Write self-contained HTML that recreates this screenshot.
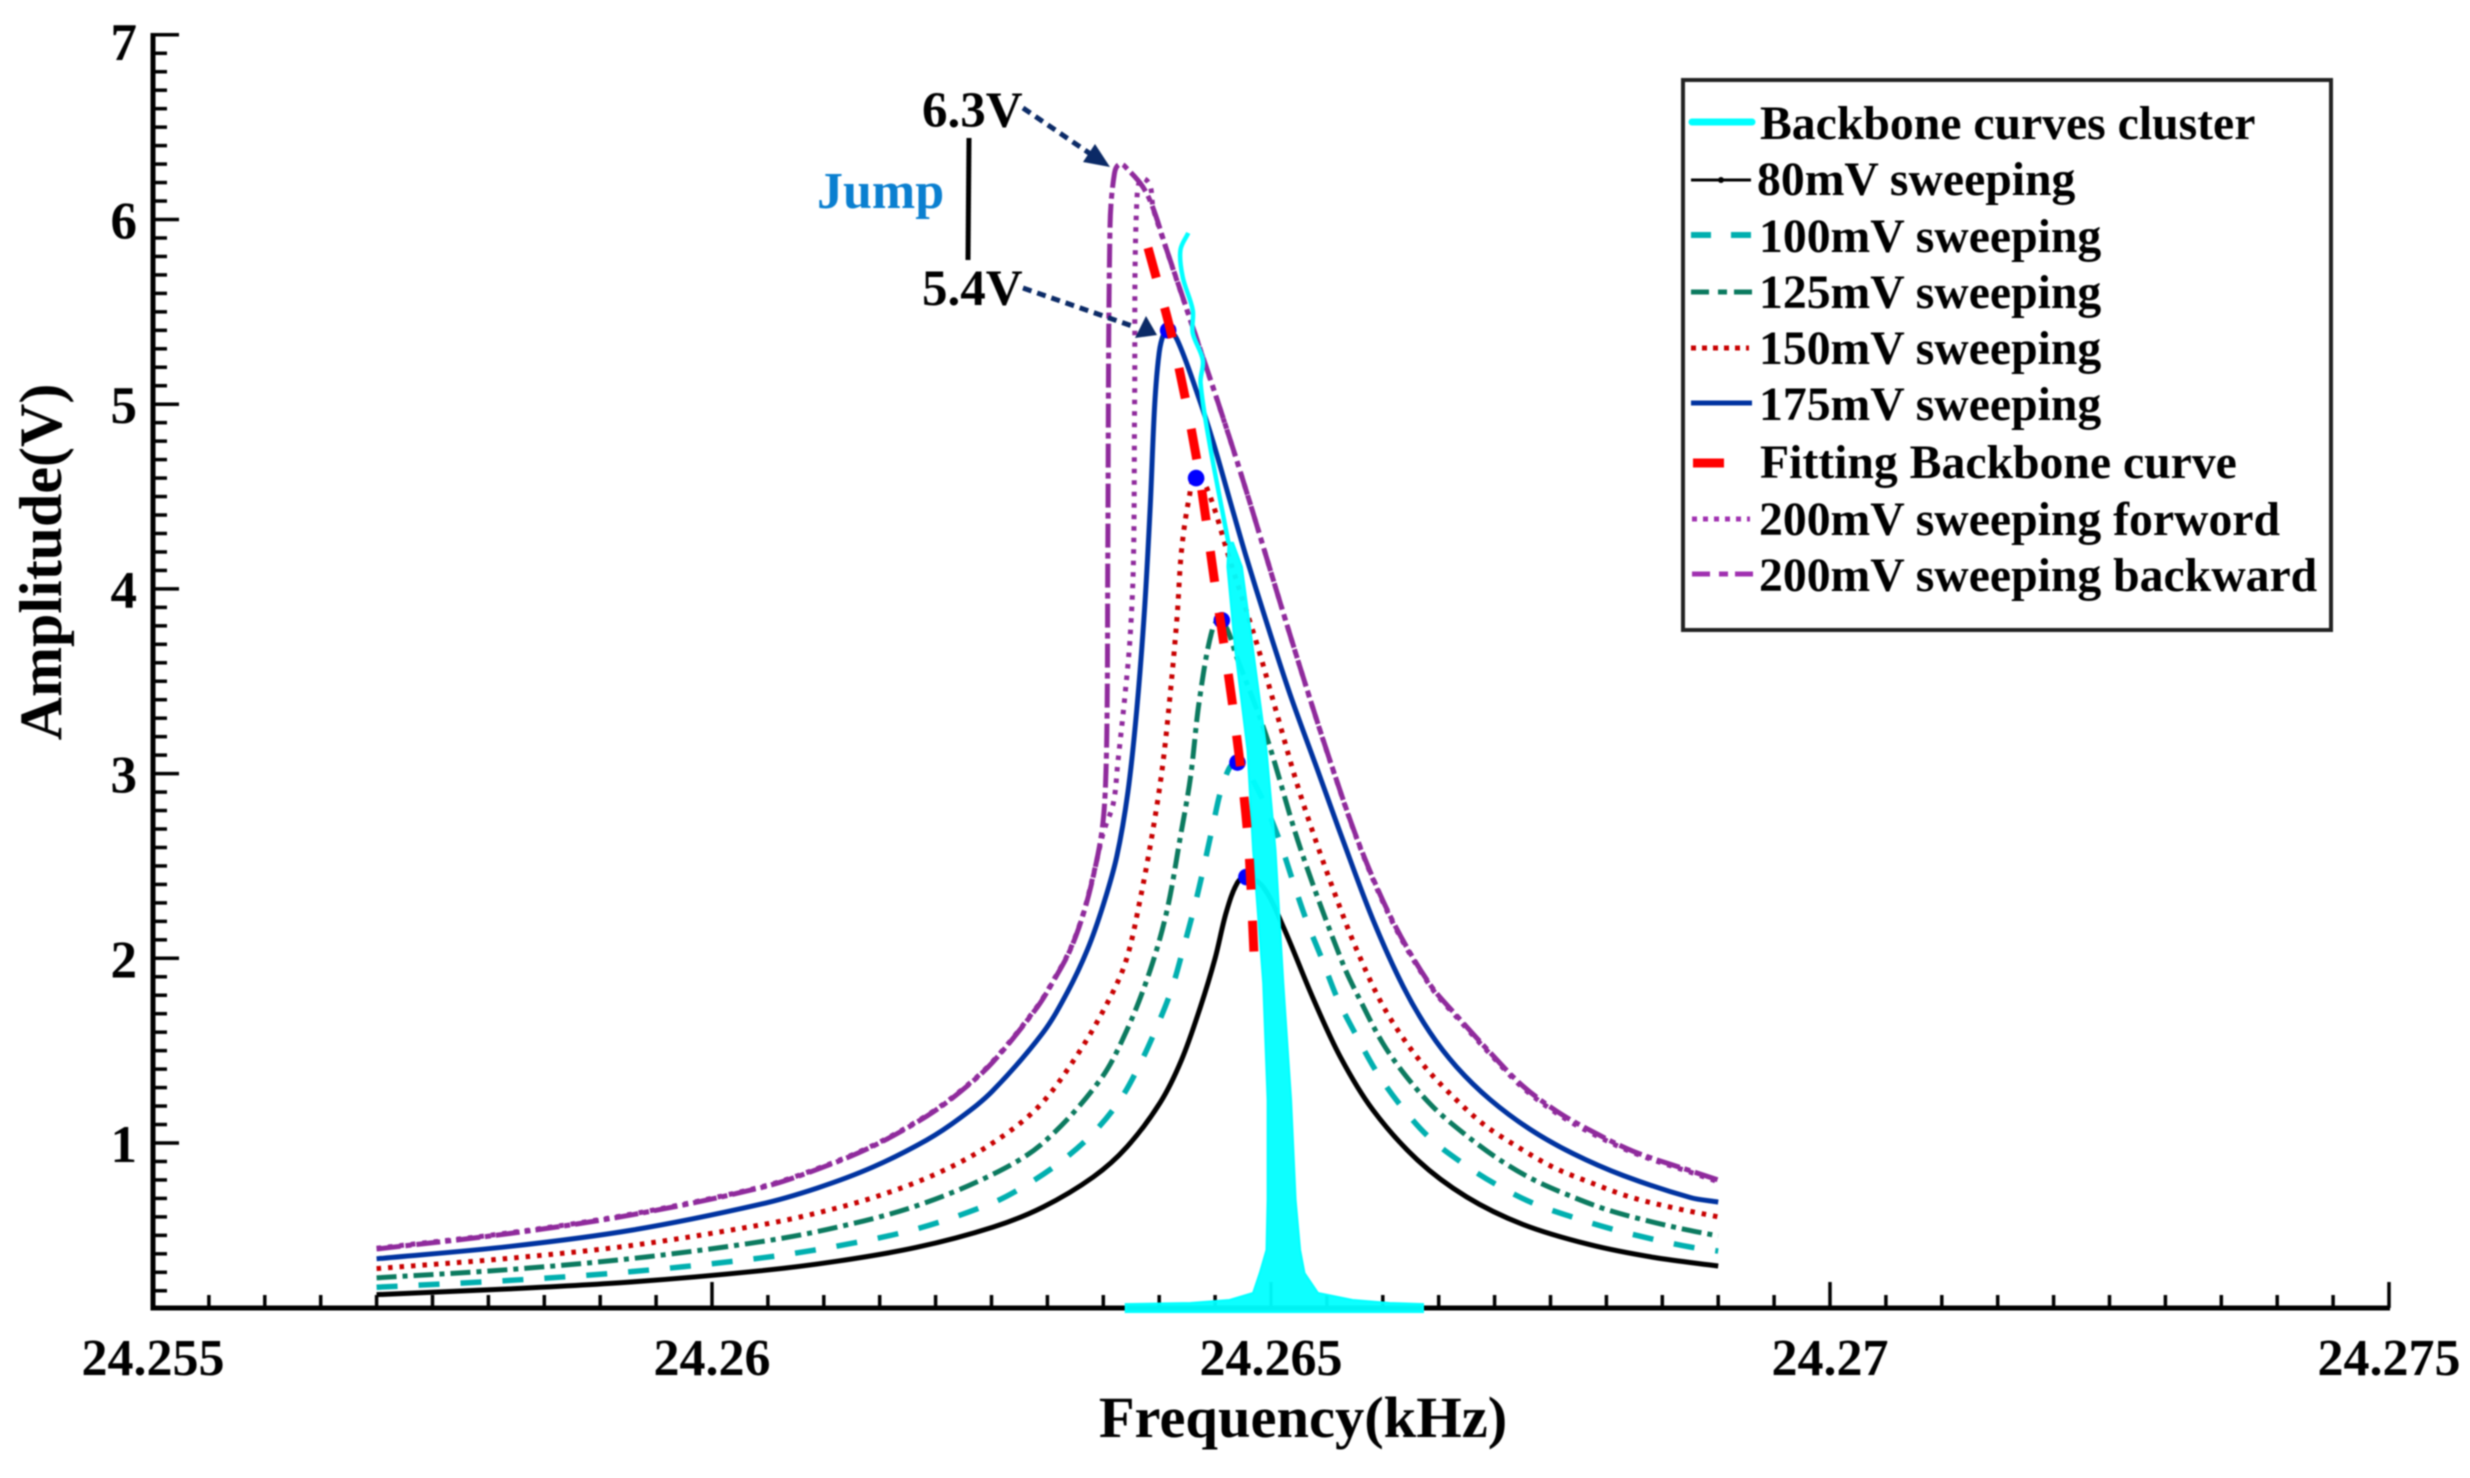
<!DOCTYPE html>
<html lang="en">
<head>
<meta charset="utf-8">
<title>Amplitude vs Frequency sweeps</title>
<style>
html,body{margin:0;padding:0;background:#fff;width:2470px;height:1478px;overflow:hidden}
svg{display:block;filter:blur(0.9px)}
text{font-family:"Liberation Serif",serif;font-weight:bold;fill:#000}
.leg{font-size:47.7px}
</style>
</head>
<body>
<svg id="chart" xmlns="http://www.w3.org/2000/svg" width="2470" height="1478" viewBox="0 0 2470 1478">
  <rect x="0" y="0" width="2470" height="1478" fill="#fff"/>
  <g id="axes"></g>
  <g id="series"></g>

  <text x="61" y="562" font-size="60" text-anchor="middle" transform="rotate(-90 61 562)">Amplitude(V)</text>
  <text x="1303" y="1437" font-size="58.5" text-anchor="middle">Frequency(kHz)</text>

  <text x="922" y="127" font-size="51">6.3V</text>
  <text x="922" y="305" font-size="51">5.4V</text>
  <text x="817" y="208" font-size="52" style="fill:#0a7fd0">Jump</text>
  <line x1="969" y1="138" x2="968" y2="260" stroke="#000" stroke-width="5"/>
  <line x1="1023" y1="108" x2="1092" y2="155" stroke="#0b2a66" stroke-width="5" stroke-dasharray="9 6"/>
  <polygon points="1110,167 1083,162 1095,144" fill="#0b2a66"/>
  <line x1="1023" y1="288" x2="1135" y2="327" stroke="#0b2a66" stroke-width="5" stroke-dasharray="9 6"/>
  <polygon points="1157,335 1135,338 1146,316" fill="#0b2a66"/>

  <g>
    <rect x="1683" y="80" width="648" height="550" fill="#fff" stroke="#222" stroke-width="4"/>
    <g>
      <line x1="1692" y1="122" x2="1752" y2="122" stroke="#00ffff" stroke-width="7" stroke-linecap="round"/>
      <text class="leg" x="1760" y="139">Backbone curves cluster</text>
    </g>
    <g>
      <line x1="1691" y1="180" x2="1751" y2="180" stroke="#000" stroke-width="3"/>
      <circle cx="1721" cy="180" r="3" fill="#000"/>
      <text class="leg" x="1757" y="195">80mV sweeping</text>
    </g>
    <g>
      <line x1="1691" y1="235" x2="1752" y2="235" stroke="#00afaf" stroke-width="6" stroke-dasharray="20 20"/>
      <text class="leg" x="1759" y="252">100mV sweeping</text>
    </g>
    <g>
      <line x1="1691" y1="292" x2="1752" y2="292" stroke="#0b7a5f" stroke-width="5" stroke-dasharray="18 9 9 7 18"/>
      <text class="leg" x="1759" y="308">125mV sweeping</text>
    </g>
    <g>
      <line x1="1691" y1="348" x2="1749" y2="348" stroke="#c80000" stroke-width="5" stroke-dasharray="5 6"/>
      <text class="leg" x="1759" y="364">150mV sweeping</text>
    </g>
    <g>
      <line x1="1691" y1="403" x2="1752" y2="403" stroke="#0033a0" stroke-width="5"/>
      <text class="leg" x="1759" y="420">175mV sweeping</text>
    </g>
    <g>
      <line x1="1693" y1="463" x2="1724" y2="463" stroke="#ff0000" stroke-width="9"/>
      <text class="leg" x="1760" y="478">Fitting Backbone curve</text>
    </g>
    <g>
      <line x1="1692" y1="519" x2="1750" y2="519" stroke="#a030b0" stroke-width="5" stroke-dasharray="5 6"/>
      <text class="leg" x="1759" y="535">200mV sweeping forword</text>
    </g>
    <g>
      <line x1="1692" y1="574" x2="1753" y2="574" stroke="#a030b0" stroke-width="5" stroke-dasharray="18 9 9 7 18"/>
      <text class="leg" x="1759" y="591">200mV sweeping backward</text>
    </g>
  </g>
</svg>

<script>
// ---- tick labels ----
const xTickValues = [24.255, 24.26, 24.265, 24.27, 24.275];
const xTickLabels = ["24.255", "24.26", "24.265", "24.27", "24.275"];
const yTickValues = [1, 2, 3, 4, 5, 6, 7];
const yTickLabels = ["1", "2", "3", "4", "5", "6", "7"];

// ---- 80 mV ----
const freq80 = [24.257,24.25819,24.25929,24.26043,24.26112,24.26183,24.26251,24.26296,24.26341,24.26371,24.26401,24.2642,24.264365,24.2645,24.2646,24.2647,24.26478,24.26493,24.26511,24.265375,24.26562,24.26591,24.26631,24.26675,24.26725,24.26785,24.26843,24.269];
const amp80 = [0.179,0.21,0.248,0.308,0.36,0.435,0.544,0.653,0.816,0.978,1.22,1.45,1.73,2.0,2.25,2.41,2.44,2.386,2.17,1.785,1.466,1.18,0.908,0.708,0.56,0.45,0.38,0.334];

// ---- 100 mV ----
const freq100 = [24.257,24.25819,24.25929,24.26043,24.26112,24.26183,24.26251,24.26284,24.26314,24.26341,24.26365,24.26383,24.26398,24.26411,24.26421,24.26432,24.26439,24.26447,24.26458,24.2647,24.26485,24.26505,24.2652,24.26532,24.26546,24.2656,24.26577,24.26595,24.26617,24.26642,24.26671,24.26702,24.26734,24.26769,24.26805,24.26841,24.26875,24.269];
const amp100 = [0.219,0.256,0.304,0.377,0.442,0.535,0.676,0.783,0.908,1.054,1.233,1.43,1.63,1.83,2.04,2.29,2.47,2.69,2.96,3.06,2.95,2.68,2.41,2.2,1.99,1.774,1.574,1.38,1.195,1.027,0.892,0.773,0.675,0.6,0.534,0.48,0.437,0.415];

// ---- 125 mV ----
const freq125 = [24.257,24.25819,24.25929,24.26043,24.26112,24.26183,24.26251,24.26296,24.26347,24.26371,24.26392,24.26407,24.26419,24.26428,24.26436,24.26448,24.26456,24.2647,24.26496,24.26526,24.26564,24.26581,24.266,24.2662,24.26645,24.26672,24.26702,24.26732,24.26765,24.268,24.26836,24.26872,24.269];
const amp125 = [0.27,0.315,0.375,0.465,0.544,0.66,0.83,1.0,1.34,1.61,1.937,2.26,2.66,2.98,3.4,3.79,3.83,3.62,3.2,2.6,1.975,1.758,1.54,1.368,1.195,1.054,0.919,0.81,0.72,0.64,0.58,0.53,0.497];

// ---- 150 mV ----
const freq150 = [24.257,24.25819,24.25929,24.26046,24.26094,24.26144,24.26198,24.26246,24.26291,24.26326,24.26356,24.26371,24.26383,24.26394,24.26403,24.2641,24.26416,24.2642,24.26427,24.26433,24.26443,24.26463,24.26487,24.26505,24.26523,24.26541,24.26562,24.26575,24.26596,24.26615,24.26638,24.26663,24.26691,24.26721,24.26752,24.26787,24.26821,24.26857,24.269];
const amp150 = [0.32,0.376,0.446,0.559,0.621,0.704,0.826,0.98,1.19,1.47,1.786,2.0,2.32,2.68,3.04,3.44,3.85,4.21,4.5,4.6,4.54,4.16,3.71,3.33,2.95,2.62,2.27,2.07,1.79,1.596,1.41,1.25,1.097,0.978,0.87,0.783,0.708,0.653,0.6];

// ---- 175 mV ----
const freq175 = [24.257,24.25819,24.25929,24.26043,24.26094,24.26144,24.26192,24.26222,24.26251,24.26296,24.26318,24.26336,24.2635,24.26362,24.26372,24.2638,24.26387,24.26392,24.26396,24.264,24.26404,24.26408,24.26416,24.26434,24.26448,24.26466,24.26478,24.26496,24.26517,24.26541,24.26564,24.26591,24.26618,24.26642,24.26666,24.26696,24.26732,24.2677,24.26815,24.26875,24.269];
const amp175 = [0.373,0.44,0.529,0.668,0.756,0.87,1.016,1.136,1.282,1.597,1.818,2.05,2.29,2.55,2.9,3.35,3.9,4.45,5.0,5.28,5.38,5.4,5.35,5.06,4.8,4.42,4.17,3.82,3.43,3.03,2.645,2.212,1.85,1.6,1.412,1.235,1.073,0.943,0.824,0.705,0.68];

// ---- 200 mV backward ----
const freq200b = [24.257,24.25819,24.25929,24.26043,24.26094,24.26144,24.26192,24.26222,24.26251,24.26291,24.26305,24.2632,24.26332,24.26342,24.26349,24.26352,24.263535,24.26354,24.26356,24.2636,24.26365,24.26372,24.26385,24.26394,24.26407,24.26421,24.26436,24.26451,24.26466,24.26481,24.26493,24.26511,24.26532,24.26555,24.2658,24.26609,24.26642,24.26666,24.26696,24.26725,24.26756,24.26785,24.26824,24.26875,24.269];
const amp200b = [0.426,0.51,0.612,0.757,0.857,0.983,1.145,1.277,1.437,1.736,1.873,2.04,2.237,2.47,2.7,2.94,3.4,4.16,5.96,6.25,6.3,6.27,6.18,6.07,5.83,5.58,5.31,5.04,4.76,4.47,4.23,3.87,3.46,3.03,2.6,2.2,1.86,1.69,1.49,1.31,1.17,1.07,0.955,0.85,0.8];

// ---- 200 mV forward ----
const freq200f = [24.257,24.25819,24.25929,24.26043,24.26094,24.26144,24.26192,24.26222,24.26251,24.26291,24.26305,24.2632,24.26332,24.26342,24.2635,24.26359,24.26363,24.26369,24.26374,24.26377,24.26378,24.2638,24.26387,24.26395,24.26408,24.26422,24.26437,24.26452,24.26467,24.26482,24.26494,24.26512,24.26533,24.26556,24.26581,24.2661,24.26643,24.26667,24.26697,24.26726,24.26757,24.26786,24.26825,24.26876,24.269];
const amp200f = [0.43,0.514,0.616,0.761,0.861,0.987,1.149,1.281,1.441,1.74,1.877,2.044,2.241,2.474,2.68,2.84,3.06,3.4,3.74,4.16,5.0,6.1,6.22,6.05,5.81,5.56,5.29,5.02,4.74,4.45,4.21,3.85,3.44,3.01,2.58,2.18,1.845,1.675,1.475,1.295,1.155,1.055,0.945,0.84,0.79];

// ---- backbone cluster (upper single trace, then band edges) ----
const cyanTailFreq = [24.26426,24.26419,24.26421,24.2643,24.2643,24.26439,24.26437,24.26445,24.26462];
const cyanTailAmp = [5.927,5.835,5.689,5.51,5.386,5.239,5.115,4.79,4.248];
const cyanBandAmp = [4.25,4.119,3.669,3.128,2.586,1.866,1.233,0.692,0.421,0.296,0.188,0.15,0.134,0.128,0.085];
const cyanBandLeft = [24.26462,24.26461,24.26468,24.26479,24.26484,24.26493,24.26497,24.26497,24.26496,24.2649,24.26484,24.26463,24.26428,24.2637,24.2637];
const cyanBandRight = [24.26466,24.26474,24.26484,24.26496,24.26504,24.26511,24.26518,24.26522,24.26526,24.2653,24.26542,24.26573,24.26606,24.26636,24.26636];

// ---- fitted backbone ----
const fitFreq = [24.2639,24.26412,24.26434,24.2645,24.26466,24.26479,24.26485];
const fitAmp = [5.846,5.35,4.687,4.02,3.355,2.68,2.0];

// ---- peak markers ----
const peakFreq = [24.26408,24.26433,24.26456,24.2647,24.26478];
const peakAmp = [5.4,4.6,3.83,3.06,2.44];

// ---- scales ----
const X0 = 153, X1 = 2389, XMIN = 24.255, XMAX = 24.275;
const YBOTTOM = 1308;
function xScale(v) { return X0 + (v - XMIN) * (X1 - X0) / (XMAX - XMIN); }
function yScale(v) { return 1143 - (v - 1) * 184.7; }

const NS = 'http://www.w3.org/2000/svg';
function make(tag, attrs, parent) {
  const el = document.createElementNS(NS, tag);
  for (const k in attrs) el.setAttribute(k, attrs[k]);
  parent.appendChild(el);
  return el;
}

// smooth path through points; tangent scaled by chord length so sharp corners do not overshoot
function smoothPath(fs, as) {
  const p = fs.map((f, i) => [xScale(f), yScale(as[i])]);
  let d = 'M' + p[0][0].toFixed(2) + ' ' + p[0][1].toFixed(2);
  function tan(i) {
    const a = p[Math.max(i - 1, 0)], b = p[Math.min(i + 1, p.length - 1)];
    const dx = b[0] - a[0], dy = b[1] - a[1], l = Math.hypot(dx, dy) || 1;
    return [dx / l, dy / l];
  }
  for (let i = 0; i < p.length - 1; i++) {
    const t0 = tan(i), t1 = tan(i + 1);
    const s = Math.hypot(p[i + 1][0] - p[i][0], p[i + 1][1] - p[i][1]) / 3;
    d += 'C' + (p[i][0] + t0[0] * s).toFixed(2) + ' ' + (p[i][1] + t0[1] * s).toFixed(2) + ' ' +
         (p[i + 1][0] - t1[0] * s).toFixed(2) + ' ' + (p[i + 1][1] - t1[1] * s).toFixed(2) + ' ' +
         p[i + 1][0].toFixed(2) + ' ' + p[i + 1][1].toFixed(2);
  }
  return d;
}

// ---- axes ----
const axes = document.getElementById('axes');
const seriesG = document.getElementById('series');

for (let i = 0; i <= 40; i++) {
  const v = XMIN + i * 0.0005;
  const major = i % 10 === 0;
  const tick = make('line', {x1: xScale(v), x2: xScale(v), y1: YBOTTOM, y2: YBOTTOM - (major ? 26 : 13), stroke: '#000', 'stroke-width': 3.5}, axes);
  
  
}
for (let i = 0; i <= 69; i++) {
  const v = 7 - i * 0.1;
  if (yScale(v) > YBOTTOM - 4) continue;
  const major = i % 10 === 0;
  const tick = make('line', {x1: X0, x2: X0 + (major ? 26 : 14), y1: yScale(v), y2: yScale(v), stroke: '#000', 'stroke-width': 3.5}, axes);
  
  
}
const xAxis = make('line', {x1: X0 - 2.5, x2: X1 + 1, y1: YBOTTOM, y2: YBOTTOM, stroke: '#000', 'stroke-width': 5}, axes);


const yAxis = make('line', {x1: X0, x2: X0, y1: 33, y2: YBOTTOM, stroke: '#000', 'stroke-width': 5}, axes);



xTickValues.forEach(function (v, i) {
  const t = make('text', {x: xScale(v), y: 1375, 'font-size': 52, 'text-anchor': 'middle'}, axes);
  t.textContent = xTickLabels[i];
  
  
});
yTickValues.forEach(function (v, i) {
  const t = make('text', {x: 137, y: yScale(v) + (v === 7 ? 25 : 19), 'font-size': 53, 'text-anchor': 'end'}, axes);
  t.textContent = yTickLabels[i];
  
  
});

// ---- sweep curves ----
function curve(fs, as, color, width, dash, name) {
  const attrs = {d: smoothPath(fs, as), fill: 'none', stroke: color, 'stroke-width': width, 'stroke-linejoin': 'round'};
  if (dash) attrs['stroke-dasharray'] = dash;
  const path = make('path', attrs, seriesG);
  
  
  return path;
}
curve(freq200b, amp200b, '#8f2a9c', 5, '24 5 6 5', 'curve-200mv-backward');
curve(freq200f, amp200f, '#8f2a9c', 5, '4.5 7', 'curve-200mv-forward');
curve(freq175, amp175, '#0033a0', 5, null, 'curve-175mv');
curve(freq150, amp150, '#c80000', 5, '4.5 7', 'curve-150mv');
curve(freq125, amp125, '#0b7a5f', 5, '20 6 5 6', 'curve-125mv');
curve(freq100, amp100, '#00afaf', 5.5, '21 21', 'curve-100mv');
curve(freq80, amp80, '#000', 5, null, 'curve-80mv');

// ---- backbone cluster ----
let bandPts = [];
cyanBandAmp.forEach(function (a, i) { bandPts.push(xScale(cyanBandLeft[i]).toFixed(1) + ',' + yScale(a).toFixed(1)); });
for (let i = cyanBandAmp.length - 1; i >= 0; i--) {
  bandPts.push(xScale(cyanBandRight[i]).toFixed(1) + ',' + yScale(cyanBandAmp[i]).toFixed(1));
}
const band = make('polygon', {points: bandPts.join(' '), fill: '#00ffff', stroke: '#00ffff', 'stroke-width': 2, 'fill-opacity': 0.95}, seriesG);


const cyanTail = make('path', {d: smoothPath(cyanTailFreq, cyanTailAmp), fill: 'none', stroke: '#00ffff', 'stroke-width': 4.5}, seriesG);



// ---- peak dots ----
peakFreq.forEach(function (f, i) {
  const dot = make('circle', {cx: xScale(f), cy: yScale(peakAmp[i]), r: 8.3, fill: '#0000ff'}, seriesG);
  
  
});

// ---- fitted backbone ----
curve(fitFreq, fitAmp, '#ff0000', 9, '31 31', 'curve-fitting-backbone');
</script>
</body>
</html>
